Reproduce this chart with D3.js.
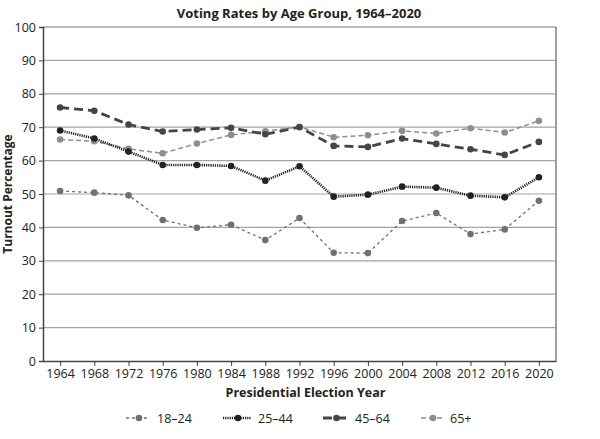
<!DOCTYPE html>
<html lang="en">
<head>
<meta charset="UTF-8">
<title>Voting Rates by Age Group</title>
<script src="https://cdnjs.cloudflare.com/ajax/libs/d3/7.8.5/d3.min.js"></script>
<style>
  body { margin: 0; background: #fff; }
  text { font-family: "Open Sans", "Noto Sans", sans-serif; fill: #222; }
</style>
</head>
<body>
<svg id="chart"></svg>
<script>
var years = [1964, 1968, 1972, 1976, 1980, 1984, 1988, 1992, 1996, 2000, 2004, 2008, 2012, 2016, 2020]
var age18to24 = [50.9, 50.4, 49.6, 42.2, 39.9, 40.8, 36.2, 42.8, 32.4, 32.3, 41.9, 44.3, 38.0, 39.4, 48.0]
var age25to44 = [69.0, 66.6, 62.7, 58.7, 58.7, 58.4, 54.0, 58.3, 49.2, 49.8, 52.2, 51.9, 49.5, 49.0, 55.0]
var age45to64 = [75.9, 74.9, 70.8, 68.7, 69.3, 69.8, 67.9, 70.0, 64.4, 64.1, 66.6, 65.0, 63.4, 61.7, 65.6]
var age65plus = [66.3, 65.8, 63.5, 62.2, 65.1, 67.7, 68.8, 70.1, 67.0, 67.6, 68.9, 68.1, 69.7, 68.4, 71.9]
var seriesNames = ["18\u201324", "25\u201344", "45\u201364", "65+"]
var yTicks = [0, 10, 20, 30, 40, 50, 60, 70, 80, 90, 100]

var W = 600, H = 439
var m = {left: 43, right: 44, top: 27, bottom: 78}

var svg = d3.select("#chart").attr("width", W).attr("height", H)

var x = d3.scalePoint().domain(years).range([m.left, W - m.right]).padding(0.5)
var y = d3.scaleLinear().domain([0, 100]).range([H - m.bottom, m.top])

// gridlines
svg.append("g").selectAll("line")
  .data(yTicks.filter(function(d) { return d > 0 })).enter()
  .append("line")
  .attr("x1", m.left).attr("x2", W - m.right)
  .attr("y1", function(d) { return y(d) }).attr("y2", function(d) { return y(d) })
  .attr("stroke", function(d) { return d == 100 ? "#777" : "#a3a3a3" })
  .attr("stroke-width", 1.2)

// right border
svg.append("line")
  .attr("x1", W - m.right).attr("x2", W - m.right)
  .attr("y1", m.top).attr("y2", H - m.bottom)
  .attr("stroke", "#808080").attr("stroke-width", 1.5)

var yAxis = svg.append("g")
  .attr("transform", "translate(" + m.left + ",0)")
  .call(d3.axisLeft(y).tickValues(yTicks).tickSize(4).tickPadding(3))
yAxis.select(".domain").attr("stroke", "#444").attr("stroke-width", 1.5)
yAxis.selectAll(".tick line").attr("stroke", "#444")
yAxis.selectAll("text").style("font-size", "12.5px").style("font-family", "Open Sans, sans-serif").attr("fill", "#222")

var xAxis = svg.append("g")
  .attr("transform", "translate(0," + (H - m.bottom) + ")")
  .call(d3.axisBottom(x).tickSize(5).tickSizeOuter(0).tickPadding(3))
xAxis.select(".domain").attr("stroke", "#444").attr("stroke-width", 1.5)
xAxis.selectAll(".tick line").attr("stroke", "#444")
xAxis.selectAll("text").style("font-size", "12.5px").style("font-family", "Open Sans, sans-serif").attr("fill", "#222")

var styles = [
  {values: age18to24, color: "#707070", width: 1.3, dash: "3,3"},
  {values: age25to44, color: "#222222", width: 2.6, dash: "1.2,1"},
  {values: age45to64, color: "#454545", width: 2.8, dash: "9,5"},
  {values: age65plus, color: "#8e8e8e", width: 1.5, dash: "5,3"}
]

var line = d3.line()
  .x(function(d, i) { return x(years[i]) })
  .y(function(d) { return y(d) })

// draw back-to-front so darker lines sit on top
var order = [3, 0, 2, 1]
order.forEach(function(k) {
  var s = styles[k]
  svg.append("path")
    .datum(s.values)
    .attr("d", line)
    .attr("fill", "none")
    .attr("stroke", s.color)
    .attr("stroke-width", s.width)
    .attr("stroke-dasharray", s.dash)
  svg.append("g").selectAll("circle")
    .data(s.values).enter()
    .append("circle")
    .attr("cx", function(d, i) { return x(years[i]) })
    .attr("cy", function(d) { return y(d) })
    .attr("r", 3.3)
    .attr("fill", s.color)
})

// title
svg.append("text")
  .attr("x", 299).attr("y", 18)
  .attr("text-anchor", "middle")
  .style("font-size", "13px").style("font-weight", "bold")
  .text("Voting Rates by Age Group, 1964\u20132020")

// axis titles
svg.append("text")
  .attr("x", (m.left + W - m.right) / 2 + 6).attr("y", 397)
  .attr("text-anchor", "middle")
  .style("font-size", "12.5px").style("font-weight", "bold")
  .text("Presidential Election Year")

svg.append("text")
  .attr("transform", "translate(12," + ((m.top + H - m.bottom) / 2) + ") rotate(-90)")
  .attr("text-anchor", "middle")
  .style("font-size", "12px").style("font-weight", "bold")
  .text("Turnout Percentage")

// legend
var legendX = [126, 223, 323, 421]
var legendLen = [24, 28, 25, 22]
var legend = svg.append("g")
seriesNames.forEach(function(name, k) {
  var s = styles[k]
  var g = legend.append("g").attr("transform", "translate(" + legendX[k] + ",418)")
  g.append("line")
    .attr("x1", 0).attr("x2", legendLen[k])
    .attr("y1", 0).attr("y2", 0)
    .attr("stroke", s.color)
    .attr("stroke-width", s.width)
    .attr("stroke-dasharray", s.dash)
  g.append("circle")
    .attr("cx", legendLen[k] / 2 + 1).attr("cy", 0).attr("r", 3.3)
    .attr("fill", s.color)
  g.append("text")
    .attr("x", legendLen[k] + 7).attr("y", 4.5)
    .style("font-size", "12.5px")
    .text(name)
})
</script>
</body>
</html>
